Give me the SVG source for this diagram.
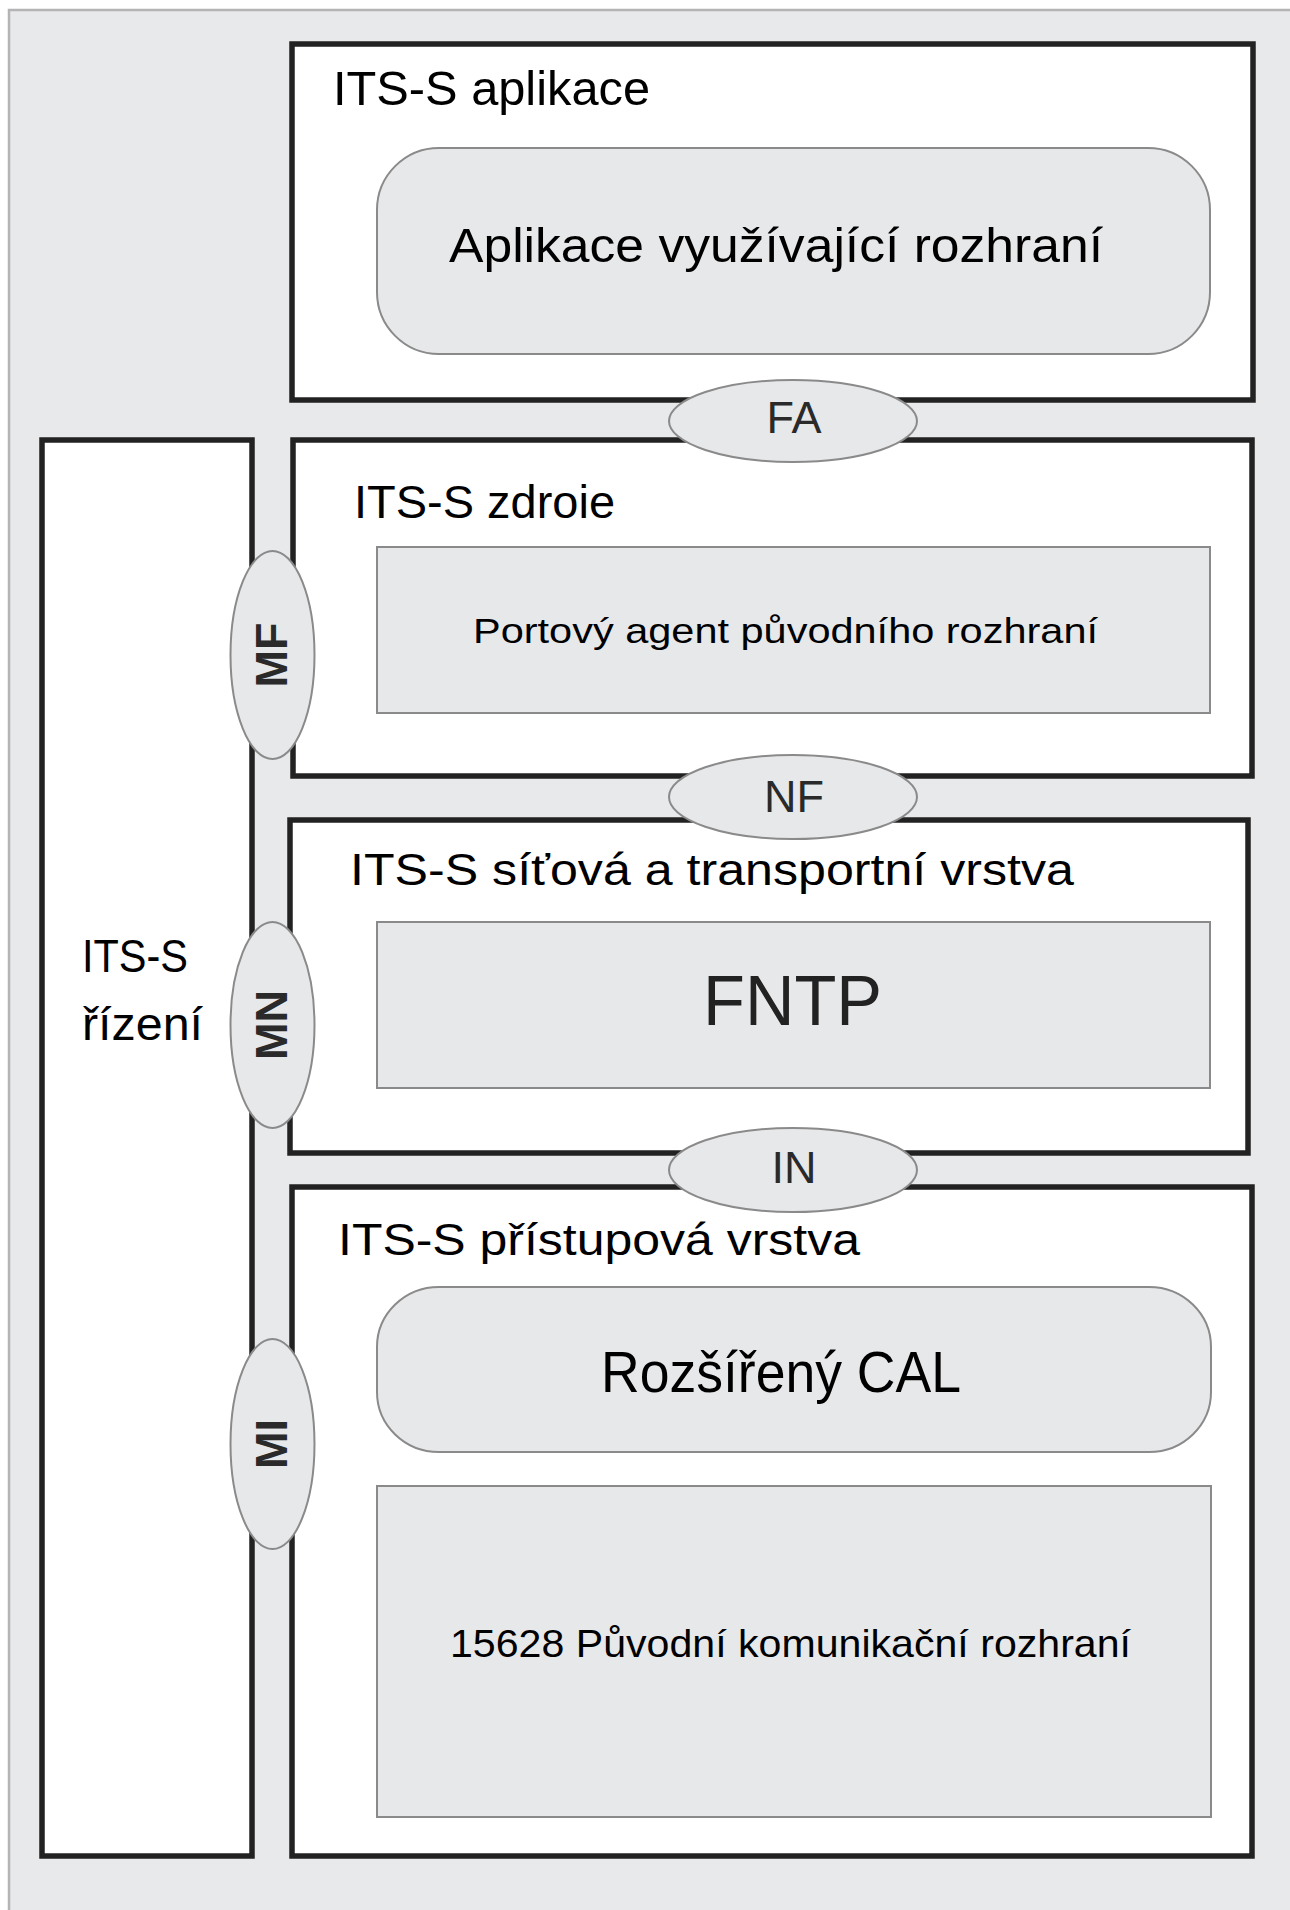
<svg xmlns="http://www.w3.org/2000/svg" width="1290" height="1910" viewBox="0 0 1290 1910">
<style>
.bg{fill:#e8e9eb;stroke:#b4b4b4;stroke-width:2.5}
.box{fill:#ffffff;stroke:#222;stroke-width:5.5}
.inner{fill:#e7e8ea;stroke:#8a8a8a;stroke-width:2}
.ifc{fill:#e7e8ea;stroke:#8a8a8a;stroke-width:2}
.lbl{font-family:"Liberation Sans",Arial,sans-serif;fill:#000}
.ifl{font-family:"Liberation Sans",Arial,sans-serif;fill:#2a2a2a;font-size:45px;text-anchor:middle}
.vl{font-family:"Liberation Sans",Arial,sans-serif;fill:#2a2a2a;font-size:45px;font-weight:bold;text-anchor:middle}
</style>
<rect class="bg" x="9" y="10" width="1300" height="1920"/>

<g id="application">
<rect class="box" x="292" y="44" width="961" height="356"/>
<text class="lbl" x="333" y="105" font-size="49" textLength="317" lengthAdjust="spacingAndGlyphs">ITS-S aplikace</text>
</g>
<g id="app-interface-apps">
<rect class="inner" x="377" y="148" width="833" height="206" rx="62" ry="62"/>
<text class="lbl" x="449" y="262" font-size="49" textLength="654" lengthAdjust="spacingAndGlyphs">Aplikace využívající rozhraní</text>
</g>

<g id="management">
<rect class="box" x="42" y="440" width="210" height="1416"/>
<text class="lbl" x="82" y="972" font-size="47" textLength="106" lengthAdjust="spacingAndGlyphs">ITS-S</text>
<text class="lbl" x="82" y="1040" font-size="47" textLength="121" lengthAdjust="spacingAndGlyphs">řízení</text>
</g>

<g id="facilities">
<rect class="box" x="293" y="440" width="959" height="336"/>
<text class="lbl" x="354" y="518" font-size="47" textLength="261" lengthAdjust="spacingAndGlyphs">ITS-S zdroie</text>
</g>
<g id="port-agent">
<rect class="inner" x="377" y="547" width="833" height="166"/>
<text class="lbl" x="473" y="643" font-size="35" textLength="625" lengthAdjust="spacingAndGlyphs">Portový agent původního rozhraní</text>
</g>

<g id="network">
<rect class="box" x="290" y="820" width="958" height="333"/>
<text class="lbl" x="350" y="885" font-size="45" textLength="724" lengthAdjust="spacingAndGlyphs">ITS-S síťová a transportní vrstva</text>
</g>
<g id="fntp">
<rect class="inner" x="377" y="922" width="833" height="166"/>
<text class="lbl" x="703" y="1025" font-size="70" style="fill:#222" textLength="179" lengthAdjust="spacingAndGlyphs">FNTP</text>
</g>

<g id="access">
<rect class="box" x="292" y="1187" width="960" height="669"/>
<text class="lbl" x="338" y="1255" font-size="45" textLength="522" lengthAdjust="spacingAndGlyphs">ITS-S přístupová vrstva</text>
</g>
<g id="extended-cal">
<rect class="inner" x="377" y="1287" width="834" height="165" rx="62" ry="60"/>
<text class="lbl" x="601" y="1392" font-size="57" textLength="360" lengthAdjust="spacingAndGlyphs">Rozšířený CAL</text>
</g>
<g id="legacy-comm">
<rect class="inner" x="377" y="1486" width="834" height="331"/>
<text class="lbl" x="450" y="1657" font-size="39" textLength="681" lengthAdjust="spacingAndGlyphs">15628 Původní komunikační rozhraní</text>
</g>

<g id="if-FA">
<ellipse class="ifc" cx="793" cy="421" rx="124" ry="41"/>
<text class="ifl" x="794" y="433">FA</text>
</g>
<g id="if-NF">
<ellipse class="ifc" cx="793" cy="797" rx="124" ry="42"/>
<text class="ifl" x="794" y="812">NF</text>
</g>
<g id="if-IN">
<ellipse class="ifc" cx="793" cy="1170" rx="124" ry="42"/>
<text class="ifl" x="794" y="1183">IN</text>
</g>
<g id="if-MF">
<ellipse class="ifc" cx="272.5" cy="655" rx="42" ry="104"/>
<text class="vl" transform="translate(287,655) rotate(-90)" x="0" y="0">MF</text>
</g>
<g id="if-MN">
<ellipse class="ifc" cx="272.5" cy="1025" rx="42" ry="103"/>
<text class="vl" transform="translate(287,1025) rotate(-90)" x="0" y="0">MN</text>
</g>
<g id="if-MI">
<ellipse class="ifc" cx="272.5" cy="1444" rx="42" ry="105"/>
<text class="vl" transform="translate(287,1444) rotate(-90)" x="0" y="0">MI</text>
</g>

<g id="connectors"></g>
</svg>
